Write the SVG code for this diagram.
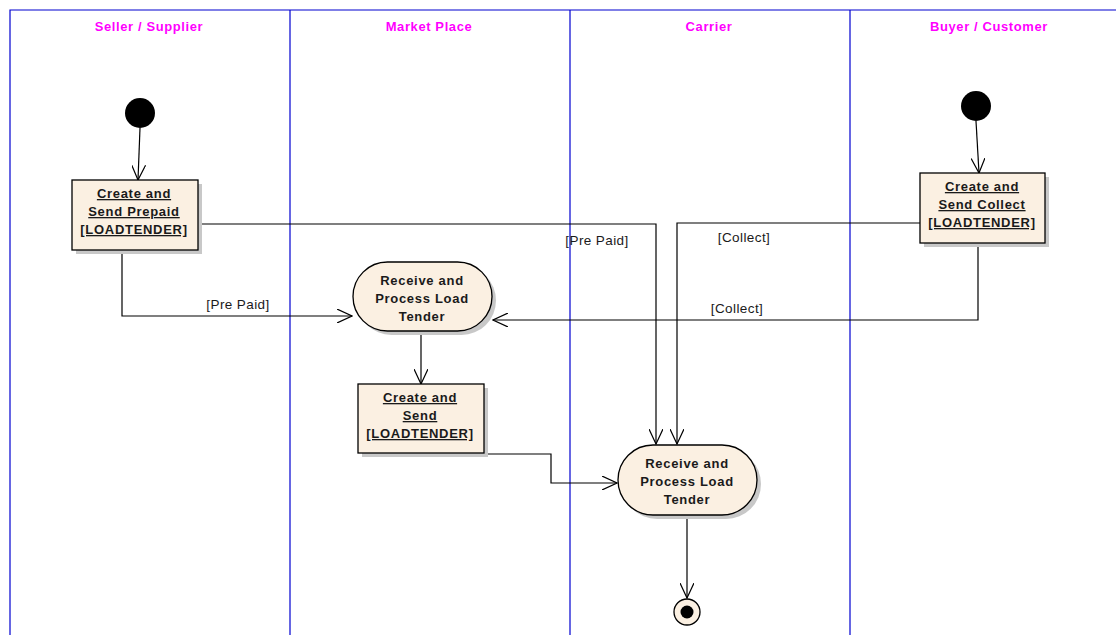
<svg xmlns="http://www.w3.org/2000/svg" width="1116" height="635" viewBox="0 0 1116 635">
  <defs>
    <marker id="open" viewBox="0 0 16 14" refX="15" refY="7" markerWidth="16" markerHeight="14" markerUnits="userSpaceOnUse" orient="auto">
      <path d="M0,0 L15,7 L0,14" fill="none" stroke="#000" stroke-width="1.2"/>
    </marker>
  </defs>
  <style>
    .lane { stroke: #0000d0; stroke-width: 1.2; fill: none; }
    .title { font-family: "Liberation Sans", Arial, sans-serif; font-size: 13px; font-weight: bold; letter-spacing: 0.6px; fill: #ff00ff; text-anchor: middle; }
    .node { fill: #fbf0e2; stroke: #000; stroke-width: 1.3; }
    .shadow { fill: #c8c8c8; }
    .label { font-family: "Liberation Sans", Arial, sans-serif; font-size: 13px; font-weight: bold; letter-spacing: 0.7px; fill: #1a1a1a; text-anchor: middle; }
    .ul { text-decoration: underline; }
    .edge { fill: none; stroke: #000; stroke-width: 1.2; marker-end: url(#open); }
    .guard { font-family: "Liberation Sans", Arial, sans-serif; font-size: 13.5px; letter-spacing: 0.4px; fill: #1a1a1a; text-anchor: middle; }
  </style>
  <rect width="1116" height="635" fill="#fff"/>

  <!-- swimlanes -->
  <g id="lanes">
    <path class="lane" d="M10,635 V10 H1116 M290,10 V635 M570,10 V635 M850,10 V635"/>
    <text class="title" x="149" y="31">Seller / Supplier</text>
    <text class="title" x="429" y="31">Market Place</text>
    <text class="title" x="709" y="31">Carrier</text>
    <text class="title" x="989" y="31">Buyer / Customer</text>
  </g>

  <!-- connectors -->
  <g id="connectors">
    <path class="edge" d="M140,128 L138,180"/>
    <path class="edge" d="M198,224 H656 V444"/>
    <path class="edge" d="M122,250 V316 H352"/>
    <path class="edge" d="M421,331 V384"/>
    <path class="edge" d="M484,454 H551 V483 H617"/>
    <path class="edge" d="M687,515 V598"/>
    <path class="edge" d="M976,121 L979,173"/>
    <path class="edge" d="M920,223 H677 V444"/>
    <path class="edge" d="M978,243 V320 H493"/>
    <text class="guard" x="597" y="245">[Pre Paid]</text>
    <text class="guard" x="238" y="309">[Pre Paid]</text>
    <text class="guard" x="744" y="242">[Collect]</text>
    <text class="guard" x="737" y="313">[Collect]</text>
  </g>

  <!-- seller start -->
  <g id="start-seller">
    <circle cx="140" cy="113" r="15" fill="#000"/>
  </g>

  <g id="create-prepaid">
    <rect class="shadow" x="76" y="184" width="126" height="70"/>
    <rect class="node" x="72" y="180" width="126" height="70"/>
    <text class="label ul" x="134" y="198">Create and</text>
    <text class="label ul" x="134" y="216">Send Prepaid</text>
    <text class="label ul" x="134" y="234">[LOADTENDER]</text>
  </g>

  <g id="receive-market">
    <rect class="shadow" x="357" y="266" width="139" height="69" rx="34.5"/>
    <rect class="node" x="353" y="262" width="139" height="69" rx="34.5"/>
    <text class="label" x="422" y="285">Receive and</text>
    <text class="label" x="422" y="303">Process Load</text>
    <text class="label" x="422" y="321">Tender</text>
  </g>

  <g id="create-send">
    <rect class="shadow" x="362" y="388" width="126" height="69"/>
    <rect class="node" x="358" y="384" width="126" height="69"/>
    <text class="label ul" x="420" y="402">Create and</text>
    <text class="label ul" x="420" y="420">Send</text>
    <text class="label ul" x="420" y="438">[LOADTENDER]</text>
  </g>

  <g id="receive-carrier">
    <rect class="shadow" x="622" y="449" width="139" height="70" rx="35"/>
    <rect class="node" x="618" y="445" width="139" height="70" rx="35"/>
    <text class="label" x="687" y="468">Receive and</text>
    <text class="label" x="687" y="486">Process Load</text>
    <text class="label" x="687" y="504">Tender</text>
  </g>

  <g id="end">
    <circle cx="687" cy="612" r="13" fill="#fbf0e2" stroke="#000" stroke-width="1.3"/>
    <circle cx="687" cy="612" r="6.5" fill="#000"/>
  </g>

  <g id="start-buyer">
    <circle cx="976" cy="106" r="15" fill="#000"/>
  </g>

  <g id="create-collect">
    <rect class="shadow" x="924" y="177" width="125" height="70"/>
    <rect class="node" x="920" y="173" width="125" height="70"/>
    <text class="label ul" x="982" y="191">Create and</text>
    <text class="label ul" x="982" y="209">Send Collect</text>
    <text class="label ul" x="982" y="227">[LOADTENDER]</text>
  </g>
</svg>
